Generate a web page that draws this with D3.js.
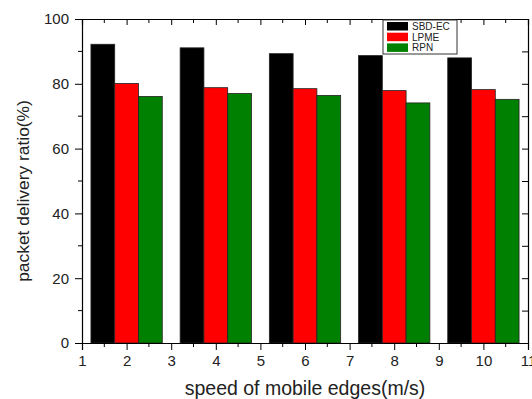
<!DOCTYPE html>
<html>
<head>
<meta charset="utf-8">
<script src="https://cdn.jsdelivr.net/npm/d3@7"></script>
<style>
body { margin: 0; background: #fff; }
text { font-family: Arial, "Liberation Sans", sans-serif; fill: #222; }
</style>
</head>
<body>
<svg id="chart" width="532" height="399"></svg>
<script>
// speeds on the x axis
var speeds = [2, 4, 6, 8, 10];
var seriesNames = ["SBD-EC", "LPME", "RPN"];
var seriesColors = ["#000000", "#ff0000", "#008000"];
// values
var sbdEc = [92.2, 91.1, 89.3, 88.7, 88.0];
var lpme = [80.1, 78.8, 78.5, 77.9, 78.2];
var rpn = [76.1, 77.0, 76.4, 74.1, 75.2];
var xTicks = [1, 2, 3, 4, 5, 6, 7, 8, 9, 10, 11];
var yTicks = [0, 20, 40, 60, 80, 100];

var allSeries = [sbdEc, lpme, rpn];

var margin = {top: 19, right: 4, bottom: 56, left: 82};
var width = 532 - margin.left - margin.right;
var height = 399 - margin.top - margin.bottom;

var svg = d3.select("#chart");
var g = svg.append("g")
    .attr("transform", "translate(" + margin.left + "," + margin.top + ")");

var x = d3.scaleLinear().domain([1, 11]).range([0, width]);
var y = d3.scaleLinear().domain([0, 100]).range([height, 0]);

var barW = 0.533; // in x units

// bars
allSeries.forEach(function(vals, s) {
    g.selectAll(".bar-" + s)
        .data(vals)
        .enter()
        .append("rect")
        .attr("class", "bar-" + s)
        .attr("x", function(d, i) { return x(speeds[i] + (s - 1.5) * barW); })
        .attr("y", function(d) { return y(d); })
        .attr("width", x(1 + barW) - x(1))
        .attr("height", function(d) { return height - y(d); })
        .attr("fill", seriesColors[s])
        .attr("stroke", "#222")
        .attr("stroke-width", 0.8);
});

var minorX = d3.range(1.5, 11, 1);
var minorY = d3.range(10, 100, 20);

// bottom axis
var bottomAxis = g.append("g")
    .attr("transform", "translate(0," + height + ")")
    .call(d3.axisBottom(x).tickValues(xTicks).tickSize(7).tickPadding(5).tickFormat(d3.format("d")));
bottomAxis.append("g").selectAll("line").data(minorX).enter().append("line")
    .attr("x1", function(d) { return x(d); }).attr("x2", function(d) { return x(d); })
    .attr("y1", 0).attr("y2", 4).attr("stroke", "#000");

// left axis
var leftAxis = g.append("g")
    .call(d3.axisLeft(y).tickValues(yTicks).tickSize(7).tickPadding(6));
leftAxis.append("g").selectAll("line").data(minorY).enter().append("line")
    .attr("y1", function(d) { return y(d); }).attr("y2", function(d) { return y(d); })
    .attr("x1", 0).attr("x2", -4).attr("stroke", "#000");

// top axis, ticks inward
var topAxis = g.append("g")
    .call(d3.axisTop(x).tickValues(xTicks).tickSize(-6).tickFormat(""));
topAxis.append("g").selectAll("line").data(minorX).enter().append("line")
    .attr("x1", function(d) { return x(d); }).attr("x2", function(d) { return x(d); })
    .attr("y1", 0).attr("y2", 4).attr("stroke", "#000");

// right axis, ticks inward
g.append("g")
    .attr("transform", "translate(" + width + ",0)")
    .call(d3.axisRight(y).tickValues(d3.range(0, 101, 10)).tickSize(-6).tickFormat(""));

g.selectAll(".domain").attr("stroke", "#000").attr("stroke-width", 1.2);
g.selectAll(".tick line").attr("stroke", "#000");
g.selectAll(".tick text").style("font-size", "15px").attr("fill", "#222")
    .style("font-family", "Arial, 'Liberation Sans', sans-serif");

// axis titles
svg.append("text")
    .attr("x", margin.left + width / 2)
    .attr("y", 395)
    .attr("text-anchor", "middle")
    .style("font-size", "19.5px")
    .text("speed of mobile edges(m/s)");

svg.append("text")
    .attr("transform", "translate(29,191) rotate(-90)")
    .attr("text-anchor", "middle")
    .style("font-size", "17.4px")
    .text("packet delivery ratio(%)");

// legend
var legend = svg.append("g").attr("transform", "translate(383,20)");
legend.append("rect")
    .attr("width", 74).attr("height", 34)
    .attr("fill", "#fff").attr("stroke", "#333").attr("stroke-width", 1);
seriesNames.forEach(function(name, i) {
    legend.append("rect")
        .attr("x", 4).attr("y", 2 + i * 10.7)
        .attr("width", 21).attr("height", 8.5)
        .attr("fill", seriesColors[i]);
    legend.append("text")
        .attr("x", 29).attr("y", 9.8 + i * 10.7)
        .style("font-size", "10px")
        .text(name);
});
</script>
</body>
</html>
